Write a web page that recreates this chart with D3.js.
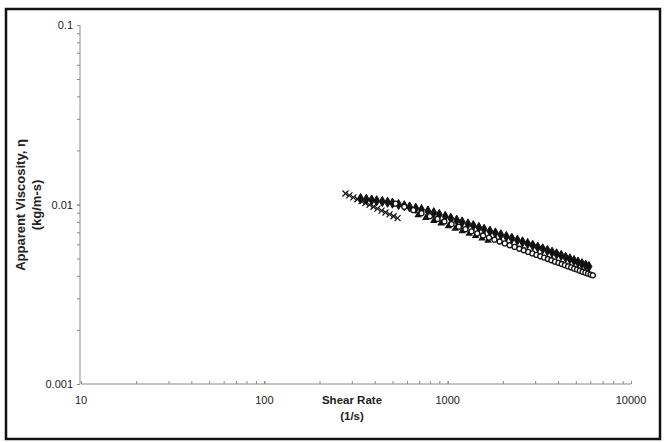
<!DOCTYPE html>
<html><head><meta charset="utf-8">
<script src="https://cdn.jsdelivr.net/npm/d3@7"></script>
<style>body{margin:0;background:#fff}svg{display:block}text{font-family:"Liberation Sans",Arial,sans-serif}</style>
</head><body><svg id="c" width="664" height="442"></svg>
<script>
// Series A: "x" markers
const shearX = [277,291,306,322,339,356,375,394,414,436,458,482,507,533];
const etaX   = [0.01151,0.01124,0.01096,0.01070,0.01044,0.01019,0.00995,0.00971,0.00948,0.00925,0.00903,0.00881,0.00860,0.00839];
// Series B: filled diamonds
const shearD = [335,360,385,410,440,470,500,540,580,620,670,720,780,840,900,970,1040,1120,1200,1290,1380,1480,1580,1700,1820,1950,2090,2240,2400,2560,2730,2910,3100,3300,3500,3710,3930,4160,4400,4640,4890,5140,5400,5660,5900];
const etaD   = [0.01079,0.01069,0.01059,0.01049,0.01039,0.01029,0.01018,0.01000,0.00984,0.00969,0.00952,0.00936,0.00919,0.00900,0.00880,0.00858,0.00838,0.00818,0.00799,0.00779,0.00762,0.00744,0.00728,0.00710,0.00694,0.00678,0.00663,0.00648,0.00633,0.00619,0.00606,0.00592,0.00579,0.00566,0.00554,0.00542,0.00531,0.00520,0.00508,0.00498,0.00487,0.00477,0.00468,0.00459,0.00451];
// Series C: open circles
const shearO = [520,580,650,720,800,880,960,1050,1150,1250,1350,1450,1560,1680,1800,1920,2050,2180,2320,2460,2600,2750,2900,3050,3200,3360,3520,3680,3850,4020,4190,4360,4540,4720,4900,5080,5260,5450,5640,5830,6020,6190];
const etaO   = [0.01010,0.00970,0.00930,0.00895,0.00861,0.00831,0.00804,0.00778,0.00752,0.00729,0.00709,0.00690,0.00672,0.00654,0.00637,0.00622,0.00607,0.00593,0.00580,0.00567,0.00556,0.00544,0.00534,0.00524,0.00515,0.00506,0.00497,0.00489,0.00480,0.00473,0.00466,0.00459,0.00452,0.00446,0.00439,0.00434,0.00428,0.00422,0.00417,0.00412,0.00407,0.00403];
// Series D: filled triangles
const shearT = [690,760,840,920,1010,1100,1200,1310,1420,1540,1660];
const etaT   = [0.00873,0.00842,0.00811,0.00785,0.00758,0.00734,0.00711,0.00688,0.00668,0.00648,0.00630];

const xTicks = [10,100,1000,10000];
const xTickLabels = ["10","100","1000","10000"];
const yTicks = [0.001,0.01,0.1];
const yTickLabels = ["0.001","0.01","0.1"];

const svg = d3.select("#c");
const x = d3.scaleLog().domain([10,10000]).range([81,631]);
const y = d3.scaleLog().domain([0.001,0.1]).range([384,25]);

// frame
svg.append("rect").attr("x",6).attr("y",9).attr("width",654).attr("height",430)
  .attr("fill","#fff").attr("stroke","#111").attr("stroke-width",2.5);

const axisCol = "#8a8a8a";
const minorX = [], minorY = [];
for (const d of [10,100,1000]) for (let k=1;k<=10;k++) minorX.push(d*k);
for (const d of [0.001,0.01]) for (let k=1;k<=10;k++) minorY.push(+(d*k).toPrecision(3));

const gx = svg.append("g").attr("transform","translate(0,384)")
  .call(d3.axisBottom(x).tickValues(minorX).tickSize(3).tickFormat(""));
gx.selectAll("path,line").attr("stroke",axisCol);
gx.select(".domain").attr("d","M81,0H631");
gx.selectAll("line").attr("y2",-3);

const gy = svg.append("g").attr("transform","translate(80,0)")
  .call(d3.axisLeft(y).tickValues(minorY).tickSize(3).tickFormat(""));
gy.selectAll("path,line").attr("stroke",axisCol);
gy.select(".domain").attr("d","M0,25V384");

svg.append("g").selectAll("text").data(xTicks).join("text")
  .attr("x",d=>x(d)).attr("y",404).attr("text-anchor","middle")
  .attr("font-size",11).attr("fill","#222").text((d,i)=>xTickLabels[i]);
svg.append("g").selectAll("text").data(yTicks).join("text")
  .attr("x",73).attr("y",d=>y(d)+4).attr("text-anchor","end")
  .attr("font-size",11).attr("fill","#222").text((d,i)=>yTickLabels[i]);

svg.append("text").attr("x",352).attr("y",404).attr("text-anchor","middle")
  .attr("font-size",11.5).attr("font-weight","bold").attr("fill","#222").text("Shear Rate");
svg.append("text").attr("x",352).attr("y",420).attr("text-anchor","middle")
  .attr("font-size",11.5).attr("font-weight","bold").attr("fill","#222").text("(1/s)");
svg.append("text").attr("transform","translate(25,205) rotate(-90)").attr("text-anchor","middle")
  .attr("font-size",13).attr("font-weight","bold").attr("fill","#222").text("Apparent Viscosity, η");
svg.append("text").attr("transform","translate(41,205) rotate(-90)").attr("text-anchor","middle")
  .attr("font-size",13).attr("font-weight","bold").attr("fill","#222").text("(kg/m-s)");

const plot = svg.append("g");
plot.selectAll(".t").data(d3.zip(shearT,etaT)).join("path")
  .attr("transform",d=>`translate(${x(d[0])},${y(d[1])})`)
  .attr("d",d3.symbol(d3.symbolTriangle,24)()).attr("fill","#111");
plot.selectAll(".d").data(d3.zip(shearD,etaD)).join("path")
  .attr("transform",d=>`translate(${x(d[0])},${y(d[1])})`)
  .attr("d",d3.symbol(d3.symbolDiamond,30)()).attr("fill","#111").attr("stroke","#111").attr("stroke-width",1);
plot.selectAll(".x").data(d3.zip(shearX,etaX)).join("path")
  .attr("transform",d=>`translate(${x(d[0])},${y(d[1])})`)
  .attr("d","M-3,-3L3,3M-3,3L3,-3").attr("stroke","#111").attr("stroke-width",1.2).attr("fill","none");
plot.selectAll(".o").data(d3.zip(shearO,etaO)).join("circle")
  .attr("cx",d=>x(d[0])).attr("cy",d=>y(d[1])).attr("r",2.5)
  .attr("fill","#fff").attr("stroke","#111").attr("stroke-width",1.3);
</script></body></html>
